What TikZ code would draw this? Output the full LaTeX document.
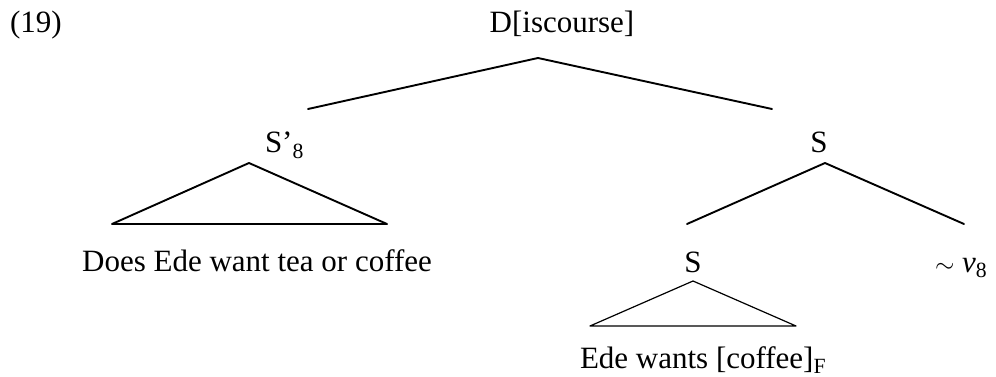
\documentclass[tikz,border=0pt]{standalone}
\usepackage{fontspec}
\setmainfont{Liberation Serif}
\begin{document}
\begin{tikzpicture}[x=1pt,y=-1pt,
  lbl/.style={inner sep=0pt,outer sep=0pt,font=\fontsize{31}{37}\selectfont},
  edge/.style={line width=1.9pt,line cap=round,line join=round},
  thinedge/.style={line width=1.2pt,line cap=round,line join=round}]
\useasboundingbox (0,0) rectangle (996,377);
% labels
\node[lbl,anchor=base west] (num) at (10,33) {(19)};
\node[lbl,anchor=base] (D) at (562,33) {D[iscourse]};
\node[lbl,anchor=base west] (Sp) at (265,153) {S’\textsubscript{8}};
\node[lbl,anchor=base] (S1) at (819,153) {S};
\node[lbl,anchor=base] (S2) at (693,272) {S};
\node[lbl,anchor=base west] (v) at (935,272) {$\sim$\ \textit{v}\textsubscript{8}};
\node[lbl,anchor=base] (q) at (257,271) {Does Ede want tea or coffee};
\node[lbl,anchor=base west] (a) at (580,368) {Ede wants [coffee]\textsubscript{F}};
% connector points
\coordinate (Dt) at (538,58);
\coordinate (Dl) at (308,109);
\coordinate (Dr) at (772,109);
\coordinate (Spt) at (249,163);
\coordinate (Spl) at (112,224);
\coordinate (Spr) at (387,224);
\coordinate (S1t) at (825,163);
\coordinate (S1l) at (687,224);
\coordinate (S1r) at (964,224);
\coordinate (S2t) at (693,281);
\coordinate (S2l) at (590,326);
\coordinate (S2r) at (796,326);
% connectors
\draw[edge] (Dl) -- (Dt) -- (Dr);
\draw[edge] (Spt) -- (Spl) -- (Spr) -- cycle;
\draw[edge] (S1l) -- (S1t) -- (S1r);
\draw[thinedge] (S2t) -- (S2l) -- (S2r) -- cycle;
\end{tikzpicture}
\end{document}
